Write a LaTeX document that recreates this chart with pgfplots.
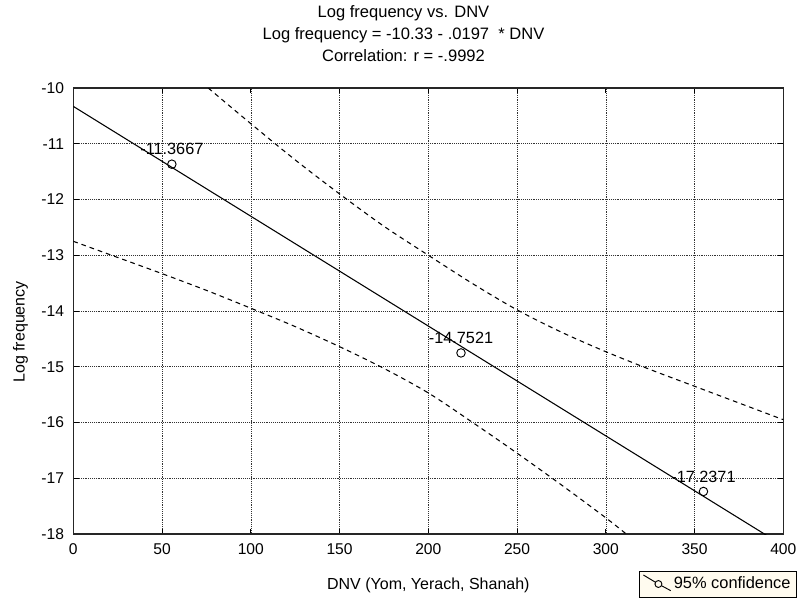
\documentclass[border=0pt]{standalone}
\usepackage{fontspec}
\setmainfont{Liberation Sans}
\usepackage{pgfplots}
\pgfplotsset{compat=1.18}
\definecolor{legendcream}{HTML}{FFFBEF}

\begin{document}
\begin{tikzpicture}
\begin{axis}[
  scale only axis, width=532.5pt, height=334.5pt,
  xmin=0, xmax=400, ymin=-18, ymax=-10,
  xtick={0,50,...,400}, ytick={-18,-17,...,-10},
  grid=major, grid style={densely dotted, black!80, line width=0.5pt},
  axis line style={black!85, line width=1pt},
  tick align=inside, major tick length=4pt, tick style={black, line width=0.6pt},
  /pgf/number format/assume math mode=true,
  ticklabel style={font=\fontsize{11.7}{13}\selectfont},
  xticklabel style={yshift=-4pt},
  yticklabel style={xshift=-3.5pt},
  xlabel={DNV (Yom, Yerach, Shanah)},
  xlabel style={at={(axis description cs:0.5,0)}, anchor=center, yshift=-38.25pt, font=\fontsize{12}{14}\selectfont},
  ylabel={Log frequency},
  ylabel style={at={(axis description cs:-0.0745,0.453)}, anchor=center, font=\fontsize{12}{14}\selectfont},
  title={Log frequency vs. DNV\\Log frequency = -10.33 - .0197 \ * DNV\\Correlation: r = -.9992},
  title style={at={(axis description cs:0.465,1.1038)}, anchor=center, align=center, font=\fontsize{12.4}{16.5}\selectfont},
  legend style={at={(axis description cs:0.797,-0.0822)}, anchor=north west, fill=legendcream, draw=black, line width=0.6pt, font=\fontsize{12.3}{14}\selectfont, inner sep=2.5pt},
  legend cell align=left,
]
% regression line
\addplot[black, line width=0.8pt, forget plot] coordinates {(0,-10.33) (400,-18.21)};
% upper 95% band
\addplot[black, line width=0.8pt, dash pattern=on 3.5pt off 3pt, smooth, tension=0.5, forget plot] coordinates {
 (76,-10) (100,-10.64) (125,-11.29) (150,-11.9) (175,-12.48) (200,-13.0) (225,-13.51)
 (250,-13.98) (275,-14.38) (300,-14.73) (325,-15.05) (350,-15.35) (375,-15.65) (400,-15.95)};
% lower 95% band
\addplot[black, line width=0.8pt, dash pattern=on 3.5pt off 3pt, smooth, tension=0.5, forget plot] coordinates {
 (0,-12.75) (25,-13.04) (50,-13.33) (75,-13.63) (100,-13.95) (125,-14.28) (150,-14.64)
 (175,-15.03) (200,-15.47) (225,-16.0) (250,-16.55) (275,-17.12) (300,-17.71) (311.5,-18)};
% data points
\addplot[only marks, mark=o, mark size=3.2pt, mark options={black, line width=0.7pt},
  nodes near coords, point meta=explicit symbolic,
  nodes near coords style={anchor=center, yshift=11.25pt, font=\fontsize{12.2}{14}\selectfont, black},
  legend image code/.code={
    \draw[black, line width=0.7pt] (0pt,6.75pt) -- (9pt,1.34pt);
    \draw[black, line width=0.7pt] (11.25pt,0pt) circle (2.6pt);
    \draw[black, line width=0.7pt] (13.54pt,-1.24pt) -- (20.5pt,-5pt);
  }]
 coordinates {(55.5,-11.3667) [-11.3667] (218.4,-14.7521) [-14.7521] (355,-17.2371) [-17.2371]};
\addlegendentry{95\% confidence}
\end{axis}
\pgfresetboundingbox
\path[use as bounding box] (-55pt,-47.25pt) rectangle (546.5pt,400.5pt);
\end{tikzpicture}
\end{document}
